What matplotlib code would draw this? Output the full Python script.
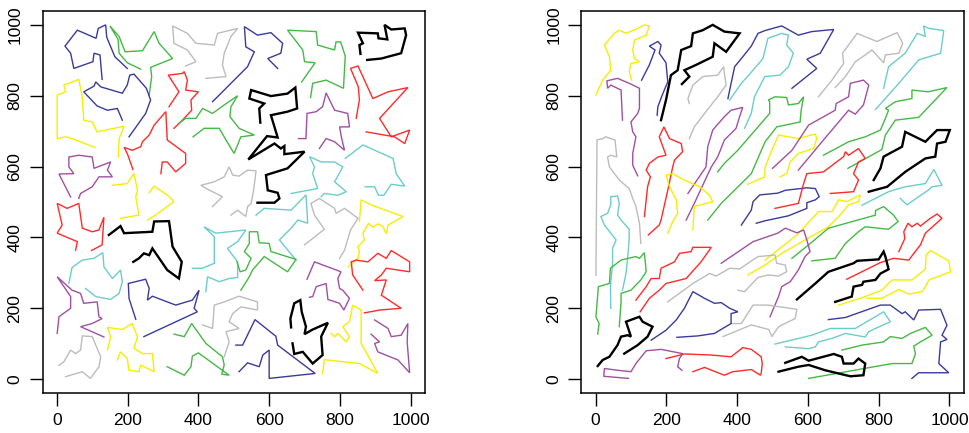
import numpy as np
import matplotlib.pyplot as plt

plt.rcParams['font.family'] = ['Liberation Sans', 'DejaVu Sans']

# line colours (R style palette)
pal = {'black': '#000000', 'red': '#ff2a2a', 'green': '#46b846', 'blue': '#3a3a9c',
       'cyan': '#6ccccc', 'magenta': '#a050a0', 'yellow': '#f6ee00', 'gray': '#bcbcbc'}

ticks = [0, 200, 400, 600, 800, 1000]

# left panel: random tours
left_colors = ['blue', 'green', 'gray', 'blue', 'yellow', 'red', 'red', 'green', 'blue', 'magenta',
               'yellow', 'yellow', 'gray', 'green', 'black', 'black', 'magenta', 'red', 'cyan', 'cyan',
               'red', 'black', 'cyan', 'magenta', 'gray', 'yellow', 'blue', 'green', 'cyan', 'gray',
               'gray', 'cyan', 'green', 'yellow', 'red', 'magenta', 'black', 'blue', 'yellow', 'magenta']
left_paths = [
    [(128,846),(122,915),(105,920),(102,896),(48,877),(39,920),(23,940),(58,985),(111,962),(117,990),(138,1000),(141,965),(164,910),(199,877)],
    [(237,875),(199,893),(176,920),(173,959),(150,997),(176,967),(193,924),(242,927),(275,981),(289,948),(327,905),(265,880),(268,854),(261,802)],
    [(364,884),(393,896),(369,929),(331,948),(327,997),(369,976),(393,948),(445,943),(454,976),(511,990),(492,967),(473,920),(468,887),(478,854),(421,849)],
    [(185,731),(171,764),(143,759),(114,771),(76,811),(105,827),(110,839),(124,825),(185,807),(199,830),(206,858),(218,861),(253,821),(265,788),(251,750),(204,684)],
    [(108,654),(43,679),(25,684),(1,679),(1,802),(25,811),(20,830),(62,846),(72,797),(76,731),(100,726),(114,698),(190,714),(176,679),(174,627)],
    [(317,769),(345,811),(315,858),(355,863),(360,868),(369,844),(364,816),(400,811),(379,788),(381,759),(355,731),(331,708)],
    [(294,580),(298,613),(312,613),(336,585),(364,609),(364,637),(312,675),(308,755),(275,717),(261,689),(242,670),(237,656),(213,646),(190,654),(199,637),(215,592)],
    [(345,722),(364,736),(393,736),(412,764),(440,750),(473,774),(511,800),(492,769),(489,741),(515,708),(558,689),(520,684),(501,637),(478,675),(459,708),(416,708),(385,684)],
    [(440,783),(473,816),(539,882),(558,924),(534,938),(530,995),(567,971),(605,978),(638,948),(633,920),(596,905),(624,877)],
    [(39,514),(6,579),(48,580),(34,599),(34,627),(62,632),(100,627),(105,595),(152,613),(143,590),(157,571),(119,571),(100,543),(67,524),(62,510)],
    [(180,454),(232,463),(223,515),(228,533),(218,580),(199,552),(157,547)],
    [(261,526),(275,545),(317,516),(331,501),(279,463),(256,449)],
    [(440,487),(468,515),(430,534),(407,547),(445,557),(473,571),(487,599),(497,576),(515,573),(539,590),(563,588),(556,533),(549,496),(539,487),(534,459),(511,477),(492,463)],
    [(692,839),(730,893),(700,896),(695,929),(652,985),(733,981),(737,943),(785,929),(789,952),(802,952),(815,912),(810,821),(761,844),(723,835),(717,795)],
    [(858,918),(855,943),(865,948),(851,978),(907,976),(909,962),(934,959),(926,1000),(945,987),(983,990),(987,971),(973,920),(917,905),(877,901)],
    [(575,724),(572,764),(586,778),(544,792),(549,816),(605,799),(652,806),(674,823),(679,764),(652,755),(605,745),(624,682),(594,686),(541,620),(615,665),(633,651),(643,658),(643,635),(700,642),(652,595),(591,576),(596,533),(624,526),(629,510),(615,498),(567,498)],
    [(683,679),(704,679),(707,750),(733,755),(751,769),(761,808),(785,759),(822,750),(827,712),(799,712),(805,679),(813,646),(785,670),(761,679),(742,651)],
    [(846,736),(855,788),(852,825),(830,877),(851,884),(893,792),(936,811),(992,823),(912,736),(945,684),(997,703),(983,665),(954,684),(874,698)],
    [(815,623),(865,661),(950,623),(959,580),(983,545),(945,550),(924,519),(909,519),(898,543),(871,543)],
    [(662,524),(737,538),(723,580),(728,599),(714,628),(747,613),(785,613),(808,599),(785,557),(818,529),(794,519),(756,524),(747,515)],
    [(53,364),(58,388),(1,412),(15,435),(1,496),(29,482),(62,496),(72,426),(100,416),(119,421),(133,457),(128,379),(98,363)],
    [(147,407),(180,432),(190,412),(270,416),(275,445),(317,446),(327,374),(353,331),(345,284),(312,308),(270,369),(261,350),(246,355),(232,341),(216,331)],
    [(34,270),(43,315),(72,336),(105,341),(130,357),(133,317),(157,284),(180,308),(185,275),(176,242),(152,225),(110,233),(81,256)],
    [(1,129),(6,176),(39,200),(39,233),(1,289),(43,251),(67,242),(76,214),(114,218),(119,176),(128,171),(100,157),(67,148),(133,119)],
    [(6,39),(20,49),(39,82),(53,72),(67,82),(72,122),(100,120),(124,63),(119,35),(95,2),(72,21),(25,7)],
    [(143,82),(152,119),(143,146),(185,140),(213,157),(228,119),(218,87),(242,72),(270,72),(275,21),(237,40),(232,21),(204,25),(199,58),(180,77),(171,54)],
    [(223,169),(204,228),(202,270),(251,282),(261,256),(256,223),(270,234),(336,209),(383,223),(402,251),(388,200),(397,190),(246,120)],
    [(331,127),(360,120),(381,157),(421,101),(468,63),(473,40),(466,14),(487,11),(400,74),(383,65),(379,35),(360,11),(312,35)],
    [(383,313),(412,313),(445,327),(445,402),(416,430),(449,412),(534,421),(511,388),(482,369),(511,331),(511,287),(487,284),(459,275),(426,289),(421,247)],
    [(412,153),(440,143),(445,209),(473,218),(515,234),(567,218),(567,195),(520,204),(497,185),(487,162),(515,143),(478,134),(487,105),(473,63)],
    [(700,379),(756,423),(728,463),(718,496),(742,510),(785,482),(789,468),(813,482),(851,454),(830,421),(813,364),(799,341)],
    [(563,463),(586,482),(662,477),(704,520),(709,440),(681,449),(662,426),(629,393),(676,336)],
    [(520,251),(544,289),(553,308),(586,346),(652,303),(676,338),(605,360),(600,383),(572,385),(567,416),(544,416),(544,383),(530,360),(549,341),(534,308),(518,303),(509,331)],
    [(824,317),(851,341),(855,360),(851,374),(869,393),(865,412),(881,440),(893,429),(907,438),(921,432),(931,410),(936,435),(978,459),(888,492),(860,506),(855,445)],
    [(865,251),(836,294),(832,331),(846,336),(879,331),(907,355),(931,341),(945,363),(997,331),(997,303),(931,313),(917,294),(898,278),(931,280),(917,237),(973,200),(912,195),(869,187)],
    [(707,282),(728,331),(803,303),(794,284),(799,256),(808,251),(827,228),(811,195),(799,214),(766,225),(761,270),(733,261),(723,233),(714,231)],
    [(662,146),(660,171),(671,214),(688,223),(692,190),(704,148),(700,127),(723,140),(766,159),(747,120),(751,68),(723,44),(695,77),(671,71),(666,101)],
    [(506,96),(525,96),(560,168),(619,121),(624,96),(730,16),(600,2),(600,82),(582,68),(572,35),(539,46),(515,21)],
    [(751,16),(756,55),(855,44),(907,16),(860,101),(860,195),(836,209),(827,162),(808,148),(827,120),(818,105),(794,129),(785,120),(775,129)],
    [(898,167),(936,143),(945,120),(973,124),(992,157),(990,105),(997,18),(964,54),(907,77),(898,101),(912,105),(888,127)],
]

# right panel: tours stretched along the diagonal
right_colors = ['yellow', 'blue', 'black', 'gray', 'magenta', 'gray', 'red', 'cyan', 'blue', 'cyan',
                'magenta', 'green', 'yellow', 'yellow', 'blue', 'gray', 'cyan', 'magenta', 'green', 'black',
                'red', 'cyan', 'yellow', 'green', 'magenta', 'red', 'black', 'yellow', 'gray', 'gray',
                'green', 'red', 'blue', 'black', 'magenta', 'red', 'blue', 'cyan', 'green', 'black']
right_paths = [
    [(1,802),(20,844),(43,872),(39,910),(25,943),(53,976),(67,985),(86,976),(119,990),(138,1000),(152,997),(143,971),(110,957),(105,929),(110,905),(124,896),(100,891),(95,868),(102,844)],
    [(130,844),(152,887),(168,929),(152,940),(176,953),(185,943),(180,920),(199,893),(204,839),(190,806),(176,769),(174,745)],
    [(185,731),(199,788),(213,858),(232,872),(242,929),(270,940),(275,976),(303,985),(331,1000),(364,981),(407,976),(369,924),(336,948),(331,910),(284,887),(251,872),(265,854),(244,833)],
    [(265,679),(279,712),(308,750),(345,797),(369,830),(364,863),(362,882),(345,858),(303,854),(275,830),(261,792),(265,778)],
    [(76,731),(72,816),(43,830),(34,821),(32,842),(62,849),(95,835),(124,821),(124,764),(119,750),(100,726),(105,698),(114,684),(105,637),(105,604),(119,574)],
    [(1,293),(4,675),(20,679),(29,684),(43,679),(55,675),(60,627),(43,632),(34,627),(39,599),(67,562),(95,538),(105,510),(114,487),(124,440),(128,383)],
    [(138,459),(147,543),(155,571),(143,590),(152,609),(176,627),(199,632),(180,684),(193,712),(209,679),(242,665),(246,642),(223,618),(218,599),(204,533),(185,449),(180,435),(149,407)],
    [(43,200),(42,261),(48,327),(48,369),(58,393),(25,435),(15,459),(34,468),(43,492),(43,515),(62,517),(67,496),(62,463),(72,449),(95,423),(95,393),(91,346),(86,298),(76,251)],
    [(374,792),(383,835),(393,882),(412,905),(440,940),(459,976),(479,984),(526,997),(573,971),(611,981),(673,987),(635,920),(597,903),(625,877),(555,821)],
    [(379,788),(412,835),(445,872),(473,905),(487,962),(526,976),(545,971),(540,943),(559,920),(545,882),(521,858),(478,854),(449,797),(440,750),(421,708)],
    [(261,524),(312,599),(317,656),(331,703),(364,741),(383,759),(416,767),(407,741),(397,708),(364,675),(345,627),(327,599),(279,496),(256,449)],
    [(345,585),(364,609),(402,646),(459,712),(492,750),(492,783),(488,788),(507,797),(540,795),(545,774),(573,778),(588,797),(581,759),(578,726),(512,712),(479,670),(440,580),(355,496),(317,449)],
    [(204,412),(218,445),(232,468),(228,506),(209,543),(199,576),(218,580),(251,562),(294,543),(322,519),(331,501),(279,487),(275,421)],
    [(430,550),(478,571),(479,599),(498,646),(517,689),(573,679),(621,692),(625,679),(616,651),(573,637),(550,613),(540,580),(521,571)],
    [(412,435),(440,477),(445,501),(464,520),(515,525),(536,533),(597,540),(621,538),(632,515),(621,506),(597,498),(597,482),(545,461),(479,447),(454,440)],
    [(630,797),(668,844),(701,891),(698,920),(739,976),(795,953),(852,978),(868,948),(857,920),(819,915),(814,893),(781,929),(762,915),(734,896),(706,854),(677,823)],
    [(814,821),(828,882),(875,920),(909,976),(932,967),(927,997),(942,990),(984,984),(975,920),(913,901),(857,835),(791,761)],
    [(500,595),(555,646),(602,717),(677,759),(680,778),(715,797),(720,835),(757,844),(772,830),(757,774),(734,748),(715,759),(644,675),(573,590)],
    [(644,632),(715,670),(762,684),(805,703),(819,736),(828,759),(819,764),(847,783),(894,792),(894,816),(940,811),(993,823),(913,739),(847,731),(819,689),(809,648),(713,595)],
    [(786,562),(805,595),(814,628),(866,656),(875,698),(932,670),(965,703),(1001,703),(989,670),(965,665),(960,628),(932,623),(875,585),(824,543),(772,529)],
    [(663,524),(729,529),(743,562),(729,580),(743,613),(762,623),(743,651),(715,632),(706,642),(701,628),(644,585),(597,580),(588,552),(573,496),(507,482)],
    [(753,491),(828,529),(875,543),(932,552),(956,592),(979,547),(951,543),(941,534),(880,492),(861,510)],
    [(430,294),(479,322),(526,355),(592,393),(658,430),(691,463),(715,492),(743,501),(748,520),(710,501),(687,506),(668,473),(630,473),(569,407),(479,336)],
    [(555,341),(602,379),(658,426),(791,463),(791,476),(814,487),(842,463),(855,445),(828,423),(762,430),(743,416),(706,383),(677,341),(611,334)],
    [(355,327),(445,388),(515,412),(536,426),(569,413),(588,421),(597,393),(606,360),(592,346),(573,308),(550,275),(526,261),(517,233),(493,176)],
    [(857,360),(874,397),(871,416),(883,440),(894,430),(909,440),(918,432),(946,454),(965,466),(979,454),(932,412),(918,379),(885,336),(842,341),(805,329),(710,282)],
    [(569,225),(621,270),(658,303),(729,327),(739,334),(800,338),(814,360),(819,346),(828,310),(805,298),(791,280),(757,275),(753,266),(729,261),(724,233),(677,218)],
    [(687,209),(762,233),(809,251),(838,280),(894,280),(932,310),(934,350),(946,363),(998,334),(1003,303),(942,280),(932,261),(923,247),(885,240),(857,253),(809,228),(767,228)],
    [(204,218),(275,270),(322,298),(341,291),(379,313),(407,311),(459,346),(507,350),(512,327),(536,322),(540,303),(517,291),(488,294),(459,287),(421,247),(402,251)],
    [(360,120),(440,153),(490,140),(498,120),(517,148),(564,171),(569,197),(487,209),(445,209),(412,157),(383,157)],
    [(6,127),(10,157),(1,176),(8,261),(39,270),(42,313),(72,336),(114,346),(124,341),(138,357),(143,303),(128,280),(100,251),(72,242),(72,218),(67,148)],
    [(114,223),(143,261),(157,284),(180,284),(185,313),(223,331),(237,355),(270,360),(275,372),(327,372),(298,331),(256,284),(199,270),(180,251),(152,228),(126,190)],
    [(157,110),(199,138),(228,167),(251,200),(275,247),(308,228),(336,214),(355,216),(379,200),(402,190),(383,185),(383,157),(336,129),(289,122),(230,118)],
    [(6,37),(20,54),(39,63),(62,96),(72,120),(91,124),(100,120),(86,162),(110,171),(124,176),(133,162),(161,148),(147,120),(119,96),(81,72)],
    [(93,2),(23,8),(25,30),(62,25),(100,21),(114,44),(143,80),(185,84),(246,72),(237,58),(232,35),(244,25)],
    [(199,58),(251,71),(327,68),(383,63),(416,89),(440,84),(468,63),(471,44),(468,16),(466,11),(440,27),(388,21),(364,11),(308,33),(275,21)],
    [(658,168),(706,174),(805,209),(833,209),(866,185),(875,190),(899,167),(913,195),(975,197),(993,152),(979,124),(993,112),(975,105),(970,44),(998,18),(913,18),(894,2)],
    [(507,99),(611,124),(663,143),(734,143),(814,190),(833,162),(791,143),(772,134),(762,119),(706,129),(668,115),(630,105),(621,91),(602,86),(536,91)],
    [(696,82),(753,96),(814,105),(833,120),(866,115),(890,129),(932,146),(951,124),(918,105),(899,93),(904,72),(894,44),(838,44),(602,2)],
    [(536,46),(583,63),(602,52),(673,71),(696,63),(701,44),(729,44),(743,58),(762,44),(757,11),(720,8),(649,25),(602,40),(573,35),(517,21)],
]


def draw_panel(ax, colors, paths):
    for c, p in zip(colors, paths):
        xy = np.array(p, dtype=float)
        lw = 1.7 if c == 'black' else 1.0
        ax.plot(xy[:, 0], xy[:, 1], color=pal[c], lw=lw, solid_joinstyle='miter')
    ax.set_xlim(-40, 1040)
    ax.set_ylim(-40, 1040)
    ax.set_xticks(ticks)
    ax.set_yticks(ticks)
    ax.set_yticklabels([str(t) for t in ticks], rotation=90, va='center')
    ax.tick_params(direction='out', length=9.5, width=1.0, pad=5, labelsize=12.5)
    for s in ax.spines.values():
        s.set_linewidth(1.1)


fig = plt.figure(figsize=(9.7, 4.33), dpi=100)
ax1 = fig.add_axes([0.044, 0.0917, 0.394, 0.8836])
ax2 = fig.add_axes([0.5994, 0.0917, 0.394, 0.8836])
draw_panel(ax1, left_colors, left_paths)
draw_panel(ax2, right_colors, right_paths)

fig.savefig('out.png', dpi=100)
